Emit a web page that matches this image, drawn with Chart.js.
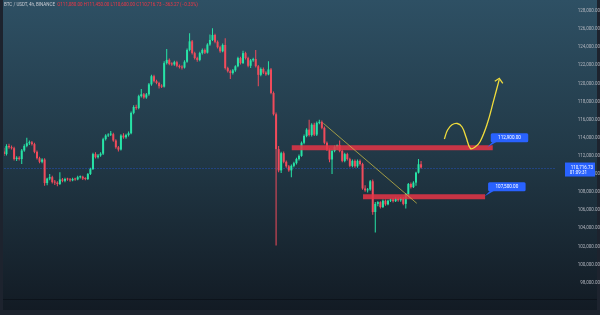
<!DOCTYPE html>
<html>
<head>
<meta charset="utf-8">
<title>BTC/USDT 4h</title>
<script src="https://cdn.jsdelivr.net/npm/chart.js@4.4.1/dist/chart.umd.min.js"></script>
<style>
  html, body { margin: 0; padding: 0; background: #131d26; }
  canvas { display: block; }
</style>
</head>
<body>
<canvas id="chart" width="600" height="315"></canvas>
<script>
// BTC/USDT 4h candles, Sep 23 00:00 -> Oct 20 08:00. x = days from Oct 1
var firstDay = -8;

var opens = [
  112500, 112200, 113100, 112950, 112850, 111650, 111800, 111650, 112600, 113100,
  113400, 113500, 113300, 112450, 111750, 111350, 111600, 109000, 109500, 109650,
  109100, 109050, 108900, 109400, 109250, 109450, 109400, 109300, 109450, 109400,
  109650, 109700, 109500, 109450, 110000, 110550, 112200, 111850, 112050, 112250,
  113850, 114250, 114350, 114400, 113700, 112950, 112700, 114250, 114050, 114300,
  114500, 116750, 117400, 117300, 118600, 118800, 118450, 118800, 119900, 120800,
  120250, 120050, 119700, 119650, 122250, 122600, 122150, 122100, 122350, 121950,
  121800, 121750, 122400, 123700, 124650, 123350, 122800, 122600, 123350, 123700,
  123400, 124300, 124800, 125350, 124600, 124000, 123550, 124250, 121700, 121350,
  121150, 121450, 121900, 122800, 122250, 123350, 122800, 121950, 122550, 122700,
  121900, 120950, 121600, 121200, 121000, 121550, 118950, 116600, 112750, 110400,
  112300, 111350, 110850, 110400, 110900, 111200, 111650, 112000, 113450, 114200,
  114900, 114300, 115450, 114350, 115650, 115750, 115100, 113450, 112700, 111600,
  112550, 113000, 113200, 112550, 111450, 112200, 111650, 110900, 111450, 110850,
  111450, 111100, 108400, 108200, 108300, 109200, 105800, 106700, 106900, 106350,
  107050, 106650, 107050, 107200, 107000, 107250, 107100, 107300, 106700, 107750,
  108900, 108550, 109050, 110150, 111080
];
var highs = [
  112900, 113300, 113350, 113150, 113000, 111950, 111950, 112750, 113300, 114000,
  113700, 113650, 113450, 112600, 111900, 111750, 111750, 109600, 110000, 109800,
  109350, 109200, 110200, 109550, 109600, 109600, 109550, 109600, 109600, 109800,
  109850, 109800, 109650, 110100, 110700, 112350, 112400, 112200, 112400, 114000,
  114400, 114500, 114750, 114550, 113850, 113100, 114400, 114500, 114450, 114700,
  116900, 117600, 117650, 118750, 119400, 118950, 118950, 120050, 120950, 120950,
  120400, 120200, 119900, 122450, 123800, 122750, 122350, 122500, 122500, 122100,
  122000, 122550, 123850, 125550, 124800, 123500, 122950, 123500, 123850, 123850,
  124450, 125400, 126100, 125500, 124750, 124150, 124400, 125000, 121850, 121500,
  121600, 122000, 122950, 122950, 123600, 123500, 122950, 122700, 122850, 123700,
  122050, 121750, 121750, 121350, 122450, 121700, 119100, 116800, 113100, 112450,
  112500, 111500, 111000, 111050, 111350, 111800, 112150, 113600, 114350, 115050,
  116000, 115600, 115650, 115800, 116000, 115900, 115250, 113600, 112850, 112700,
  113150, 113250, 113700, 112700, 112350, 112350, 111800, 111600, 111600, 111600,
  111600, 111250, 108750, 108450, 109350, 109400, 106900, 107000, 107000, 107200,
  107200, 107150, 107300, 107350, 107400, 107400, 107450, 107450, 107900, 109000,
  109050, 109200, 110250, 111650, 111450
];
var lows = [
  112000, 112050, 112800, 112700, 111500, 111450, 111500, 111100, 112450, 112950,
  113200, 113150, 112300, 111600, 111200, 111200, 108700, 108750, 109300, 108950,
  108800, 108650, 108800, 109100, 109100, 109250, 109150, 109200, 109250, 109300,
  109500, 109350, 109300, 109350, 109900, 110450, 111700, 111700, 111900, 112100,
  113700, 114100, 114200, 113550, 112800, 112500, 112600, 113900, 113900, 114150,
  114400, 116600, 117100, 117150, 118450, 118300, 118300, 118650, 119750, 120100,
  119900, 119450, 119500, 119550, 122100, 122000, 121950, 121950, 121800, 121650,
  121550, 121650, 122300, 123550, 123200, 122650, 122400, 122450, 123200, 123250,
  123300, 124150, 124700, 124450, 123850, 123400, 123450, 121550, 121200, 120500,
  121000, 121300, 121800, 122100, 122150, 122650, 121800, 121700, 122400, 121750,
  119700, 120800, 121050, 120850, 120900, 118800, 116450, 102100, 110200, 110100,
  111200, 110700, 110250, 109650, 110750, 111050, 111500, 111900, 113300, 114050,
  114150, 114150, 114200, 114200, 115500, 114950, 113300, 112550, 111300, 110000,
  112400, 112650, 112400, 111300, 111300, 111500, 110750, 110750, 110700, 110700,
  110950, 108250, 108050, 107950, 108150, 105500, 103550, 106450, 106200, 106250,
  106500, 106550, 106900, 106850, 106900, 106950, 106950, 106550, 106200, 107600,
  108400, 108450, 108700, 110050, 110600
];
var closes = [
  112200, 113100, 112950, 112850, 111650, 111800, 111650, 112600, 113100, 113400,
  113500, 113300, 112450, 111750, 111350, 111600, 109000, 109500, 109650, 109100,
  109050, 108900, 109400, 109250, 109450, 109400, 109300, 109450, 109400, 109650,
  109700, 109500, 109450, 110000, 110550, 112200, 111850, 112050, 112250, 113850,
  114250, 114350, 114400, 113700, 112950, 112700, 114250, 114050, 114300, 114500,
  116750, 117400, 117300, 118600, 118800, 118450, 118800, 119900, 120800, 120250,
  120050, 119700, 119650, 122250, 122600, 122150, 122100, 122350, 121950, 121800,
  121750, 122400, 123700, 124650, 123350, 122800, 122600, 123350, 123700, 123400,
  124300, 124800, 125350, 124600, 124000, 123550, 124250, 121700, 121350, 121150,
  121450, 121900, 122800, 122250, 123350, 122800, 121950, 122550, 122700, 121900,
  120950, 121600, 121200, 121000, 121550, 118950, 116600, 112750, 110400, 112300,
  111350, 110850, 110400, 110900, 111200, 111650, 112000, 113450, 114200, 114900,
  114300, 115450, 114350, 115650, 115750, 115100, 113450, 112700, 111600, 112550,
  113000, 113200, 112550, 111450, 112200, 111650, 110900, 111450, 110850, 111450,
  111100, 108400, 108200, 108300, 109200, 105800, 106700, 106900, 106350, 107050,
  106650, 107050, 107200, 107000, 107250, 107100, 107300, 106700, 107750, 108900,
  108550, 109050, 110150, 111080, 110716.73
];

var dayTicks = [-6, -3, 0, 3, 6, 9, 12, 15, 18, 21, 24, 27];
var dayLabels = ['25', '28', 'Oct', '4', '7', '10', '13', '16', '19', '22', '25', '28'];
var priceTicks = [98000, 100000, 102000, 104000, 106000, 108000, 110000, 112000,
  114000, 116000, 118000, 120000, 122000, 124000, 126000, 128000];

// drawn levels (price, from day, to day)
var levels = [112900, 107500];
var levelStart = [10.86, 15.53];
var levelEnd = [24.03, 23.53];

// trend line over the pullback
var trendX = [12.93, 19.05];
var trendY = [115600, 106770];

// projected path (yellow arrow)
var pathX = [20.86, 21.07, 21.36, 21.71, 22.02, 22.28, 22.57, 22.87, 23.20, 23.68, 24.07, 24.46];
var pathY = [113866, 114860, 115434, 115578, 115191, 114087, 112818, 112983, 113568, 115600, 117985, 120458];

var symbolText = 'BTC / USDT, 4h, BINANCE';
var countdown = '01:09:31';

var GREEN = '#27e3a6';
var RED = '#f04b5b';
var BAND = 'rgba(228, 52, 70, 0.86)';
var BLUE = '#2962ff';
var FONT = 'Roboto, "Liberation Sans", sans-serif';

function fmt(v) {
  return v.toLocaleString('en-US', { minimumFractionDigits: 2, maximumFractionDigits: 2 });
}

var times = opens.map(function (o, i) { return firstDay + i / 6; });
var candleColors = closes.map(function (c, i) { return c >= opens[i] ? GREEN : RED; });
var last = closes.length - 1;

// Background, edges, last price line, labels
var chartDecor = {
  id: 'chartDecor',
  beforeDraw: function (chart) {
    var ctx = chart.ctx, area = chart.chartArea;
    var bg = ctx.createLinearGradient(0, 0, 0, chart.height);
    bg.addColorStop(0, '#2e5064');
    bg.addColorStop(0.5, '#213846');
    bg.addColorStop(1, '#121a23');
    ctx.save();
    ctx.fillStyle = bg;
    ctx.fillRect(0, 0, chart.width, chart.height);
    ctx.fillStyle = '#1d232e';
    ctx.fillRect(0, 0, 3, chart.height);
    ctx.fillRect(chart.width - 3, 0, 3, chart.height);
    ctx.fillRect(0, 310, chart.width, 5);
    ctx.strokeStyle = 'rgba(8, 14, 20, 0.6)';
    ctx.lineWidth = 1;
    ctx.beginPath();
    ctx.moveTo(3, area.bottom + 0.5);
    ctx.lineTo(chart.width - 3, area.bottom + 0.5);
    ctx.stroke();
    ctx.restore();
  },
  beforeDatasetsDraw: function (chart) {
    var ctx = chart.ctx, area = chart.chartArea;
    var y = Math.round(chart.scales.y.getPixelForValue(closes[last])) + 0.5;
    ctx.save();
    ctx.strokeStyle = 'rgba(41, 98, 255, 0.32)';
    ctx.lineWidth = 1;
    ctx.setLineDash([2, 1]);
    ctx.beginPath();
    ctx.moveTo(area.left, y);
    ctx.lineTo(area.right, y);
    ctx.stroke();
    ctx.restore();
  },
  afterDraw: function (chart) {
    var ctx = chart.ctx;
    var xs = chart.scales.x, ys = chart.scales.y;
    ctx.save();

    // arrow head at the end of the projected path
    var tipX = xs.getPixelForValue(pathX[pathX.length - 1]);
    var tipY = ys.getPixelForValue(pathY[pathY.length - 1]);
    ctx.strokeStyle = '#f0dc3c';
    ctx.lineWidth = 1.3;
    ctx.beginPath();
    ctx.moveTo(tipX - 4.5, tipY + 2);
    ctx.lineTo(tipX, tipY - 1);
    ctx.lineTo(tipX + 3.5, tipY + 4);
    ctx.stroke();

    // level callouts
    var calloutDx = [-2, 3];
    ctx.font = '4.6px ' + FONT;
    ctx.textAlign = 'center';
    ctx.textBaseline = 'middle';
    levels.forEach(function (lv, k) {
      var xe = xs.getPixelForValue(levelEnd[k]);
      var yl = ys.getPixelForValue(lv);
      var bx = xe + calloutDx[k], by = yl - 14.5, bw = 37.5, bh = 9;
      ctx.fillStyle = BLUE;
      ctx.beginPath();
      ctx.moveTo(bx - 3.5, yl - 0.5);
      ctx.lineTo(bx + 2, by + bh - 0.5);
      ctx.lineTo(bx + 6, by + bh - 0.5);
      ctx.closePath();
      ctx.fill();
      ctx.beginPath();
      ctx.roundRect(bx, by, bw, bh, 1.5);
      ctx.fill();
      ctx.fillStyle = '#ffffff';
      ctx.fillText(fmt(lv), bx + bw / 2, by + bh / 2 + 0.3);
    });

    // last price tag on the axis
    var py = ys.getPixelForValue(closes[last]);
    ctx.fillStyle = BLUE;
    ctx.fillRect(565, py - 5, 30, 14);
    ctx.fillStyle = '#ffffff';
    ctx.textAlign = 'right';
    ctx.font = '4.5px ' + FONT;
    ctx.fillText(fmt(closes[last]), 593, py);
    ctx.fillText(countdown, 587, py + 5.5);

    // header line
    var change = closes[last] - closes[last - 1];
    var pct = change / closes[last - 1] * 100;
    ctx.textAlign = 'left';
    ctx.fillStyle = '#c9ccd4';
    ctx.fillText(symbolText, 4, 5);
    var w = ctx.measureText(symbolText + '  ').width;
    ctx.fillStyle = change < 0 ? '#f23645' : GREEN;
    ctx.fillText('O' + fmt(opens[last]) + ' H' + fmt(highs[last]) + ' L' + fmt(lows[last]) +
      ' C' + fmt(closes[last]) + ' ' + (change < 0 ? '\u2212' : '+') + fmt(Math.abs(change)) +
      ' (' + (change < 0 ? '\u2212' : '+') + Math.abs(pct).toFixed(2) + '%)', 4 + w, 5);
    ctx.restore();
  }
};

var ctx = document.getElementById('chart').getContext('2d');
var chart = new Chart(ctx, {
  type: 'bar',
  data: {
    datasets: [
      {
        type: 'line',
        data: pathX.map(function (x, i) { return { x: x, y: pathY[i] }; }),
        borderColor: '#f0dc3c',
        borderWidth: 1.3,
        pointRadius: 0,
        tension: 0.4,
        order: 0
      },
      {
        type: 'line',
        data: trendX.map(function (x, i) { return { x: x, y: trendY[i] }; }),
        borderColor: 'rgba(214, 196, 70, 0.7)',
        borderWidth: 1,
        pointRadius: 0,
        order: 0
      },
      {
        type: 'line',
        data: [{ x: levelStart[0], y: levels[0] }, { x: levelEnd[0], y: levels[0] }],
        borderColor: BAND,
        borderWidth: 5,
        borderCapStyle: 'butt',
        pointRadius: 0,
        order: 1
      },
      {
        type: 'line',
        data: [{ x: levelStart[1], y: levels[1] }, { x: levelEnd[1], y: levels[1] }],
        borderColor: BAND,
        borderWidth: 5,
        borderCapStyle: 'butt',
        pointRadius: 0,
        order: 1
      },
      {
        // candle bodies
        data: times.map(function (t, i) { return { x: t, y: [opens[i], closes[i]] }; }),
        backgroundColor: candleColors,
        barThickness: 2,
        minBarLength: 1,
        inflateAmount: 0,
        grouped: false,
        order: 3
      },
      {
        // wicks
        data: times.map(function (t, i) { return { x: t, y: [lows[i], highs[i]] }; }),
        backgroundColor: candleColors,
        barThickness: 1,
        inflateAmount: 0,
        grouped: false,
        order: 4
      }
    ]
  },
  options: {
    responsive: false,
    animation: false,
    devicePixelRatio: 1,
    layout: { padding: { left: 4, top: 0, right: 0, bottom: 5 } },
    plugins: { legend: { display: false }, tooltip: { enabled: false } },
    scales: {
      x: {
        type: 'linear',
        min: -7.995,
        max: 28.11,
        offset: false,
        grid: { display: false },
        border: { display: false },
        afterBuildTicks: function (s) {
          s.ticks = dayTicks.map(function (v) { return { value: v }; });
        },
        afterFit: function (s) {
          s.height = 11;
          s.paddingLeft = 0;
          s.paddingRight = 0;
        },
        ticks: {
          autoSkip: false,
          maxRotation: 0,
          padding: 3,
          color: '#b2b5be',
          font: { size: 4.6, family: FONT },
          callback: function (v) { return dayLabels[dayTicks.indexOf(v)]; }
        }
      },
      y: {
        position: 'right',
        min: 96200,
        max: 129215,
        grid: { display: false },
        border: { display: false },
        afterBuildTicks: function (s) {
          s.ticks = priceTicks.map(function (v) { return { value: v }; });
        },
        afterFit: function (s) {
          s.width = 45;
          s.paddingTop = 0;
          s.paddingBottom = 0;
        },
        ticks: {
          autoSkip: false,
          padding: 14,
          crossAlign: 'far',
          color: '#b2b5be',
          font: { size: 4.5, family: FONT },
          callback: function (v) { return fmt(v); }
        }
      }
    }
  },
  plugins: [chartDecor]
});
</script>
</body>
</html>
